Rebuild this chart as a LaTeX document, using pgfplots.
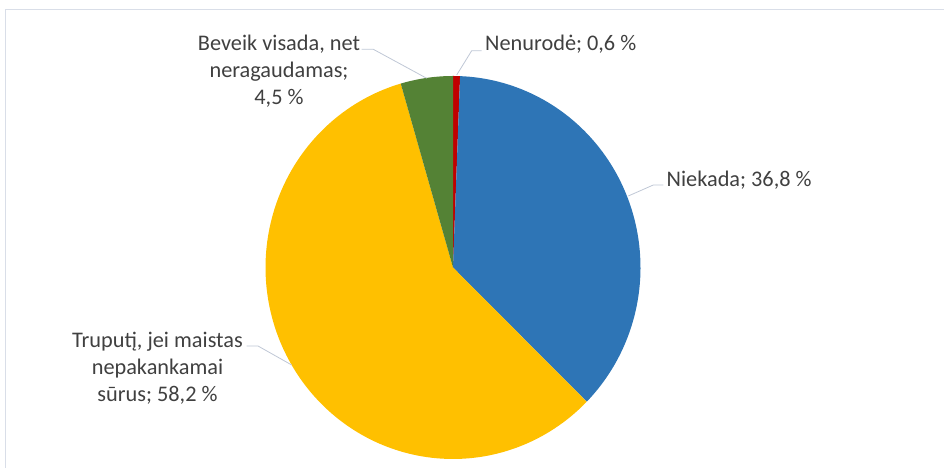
\documentclass[border=0pt]{standalone}
\usepackage{pgfplots}
\pgfplotsset{compat=1.18}
\usepackage{pgfplotstable}
\usepackage{fontspec}
\setmainfont{Carlito}
\definecolor{cBlue}{HTML}{2E75B6}
\definecolor{cYellow}{HTML}{FFC000}
\definecolor{cGreen}{HTML}{548235}
\definecolor{cRed}{HTML}{C00000}
\definecolor{cText}{HTML}{404040}
\definecolor{cLead}{RGB}{191,199,213}
\definecolor{cFrame}{RGB}{217,222,232}
\pgfplotstableread{
label value
Nenurode 0.6
Niekada 36.8
Truputi 58.2
Beveik 4.5
}\piedata
\begin{document}
\begin{tikzpicture}[x=1bp,y=1bp]
\useasboundingbox (0,0) rectangle (944,468);
\pgfplotstablegetelem{0}{value}\of\piedata \let\vA\pgfplotsretval
\pgfplotstablegetelem{1}{value}\of\piedata \let\vB\pgfplotsretval
\pgfplotstablegetelem{2}{value}\of\piedata \let\vC\pgfplotsretval
\pgfplotstablegetelem{3}{value}\of\piedata \let\vD\pgfplotsretval
\pgfmathsetmacro\total{\vA+\vB+\vC+\vD}
\pgfmathsetmacro\k{360/\total}
\pgfmathsetmacro\aA{90-\k*\vA}
\pgfmathsetmacro\aB{\aA-\k*\vB}
\pgfmathsetmacro\aC{\aB-\k*\vC}
\pgfmathsetmacro\aD{\aC-\k*\vD}
% frame
\draw[cFrame, line width=1.5bp] (5.5,0) -- (5.5,458.5) -- (944,458.5);
\begin{axis}[hide axis, scale only axis, x=187.5bp, y=191.5bp,
  xmin=-1, xmax=1, ymin=-1, ymax=1, at={(453bp,200.5bp)}, anchor=center,
  clip=false]
\addplot[draw=none, fill=cRed, domain=\aA:90, samples=4, variable=\t] ({cos(\t)},{sin(\t)}) -- (axis cs:0,0) -- cycle;
\addplot[draw=none, fill=cBlue, domain=\aB:\aA, samples=100, variable=\t] ({cos(\t)},{sin(\t)}) -- (axis cs:0,0) -- cycle;
\addplot[draw=none, fill=cYellow, domain=\aC:\aB, samples=150, variable=\t] ({cos(\t)},{sin(\t)}) -- (axis cs:0,0) -- cycle;
\addplot[draw=none, fill=cGreen, domain=\aD:\aC, samples=12, variable=\t] ({cos(\t)},{sin(\t)}) -- (axis cs:0,0) -- cycle;
\end{axis}
% leader lines
\draw[cLead, line width=0.8bp] (456.7,393) -- (471.7,417.3) -- (481.7,417.3);
\draw[cLead, line width=0.8bp] (628.3,272) -- (653.3,283) -- (663.3,283);
\draw[cLead, line width=0.8bp] (426.7,389.7) -- (373.3,418.7) -- (361.7,418.7);
\draw[cLead, line width=0.8bp] (291.7,103) -- (258,122) -- (246.7,122);
% labels
\begin{scope}[every node/.style={inner sep=0, text=cText, font=\fontsize{22.3bp}{27bp}\selectfont}]
\node[anchor=base west] at (485,417) {Nenurodė; 0,6 \%};
\node[anchor=base west] at (666.5,281.5) {Niekada; 36,8 \%};
\node[anchor=base] at (279,417.3) {Beveik visada, net};
\node[anchor=base] at (279,390.3) {neragaudamas;};
\node[anchor=base] at (279,363.3) {4,5 \%};
\node[anchor=base] at (157.5,120) {Truputį, jei maistas};
\node[anchor=base] at (157.5,93) {nepakankamai};
\node[anchor=base] at (157.5,66) {sūrus; 58,2 \%};
\end{scope}
\end{tikzpicture}
\end{document}
